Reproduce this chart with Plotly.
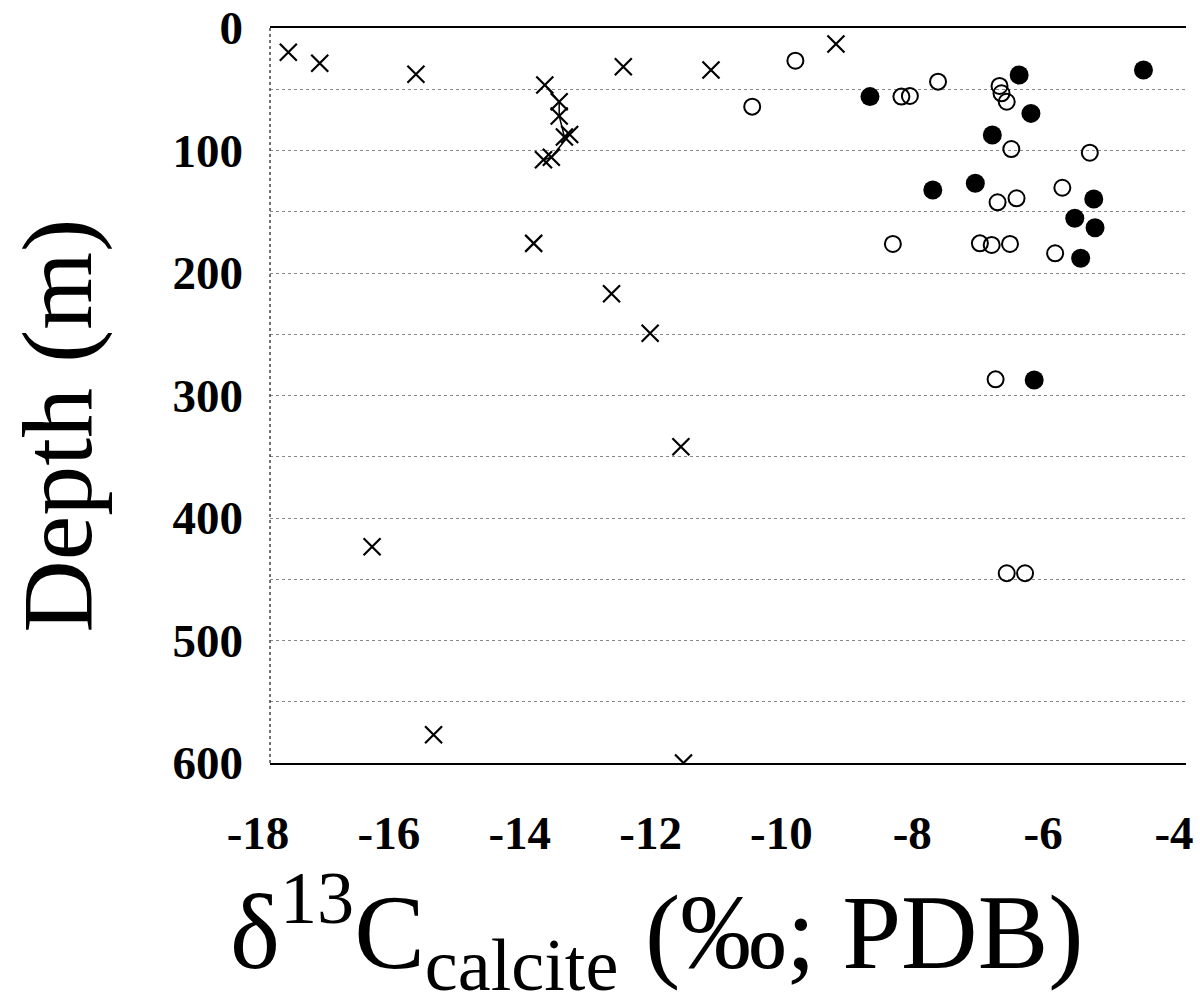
import plotly.graph_objects as go

# Crosses (single points)
cross_x = [-17.72, -17.24, -15.77, -12.60, -11.26, -13.97, -12.78, -12.19, -11.72, -16.44, -15.50, -11.68, -9.35]
cross_d = [19.8, 28.8, 37.8, 31.6, 34.3, 175.8, 217.0, 249.2, 341.8, 423.4, 577.0, 600.0, 13.1]

# Crosses joined by a line (profile near -13.5)
prof_x = [-13.80, -13.58, -13.58, -13.50, -13.42, -13.70, -13.82]
prof_d = [46.5, 60.2, 71.8, 89.0, 87.0, 105.5, 107.5]

# Open circles
open_x = [-9.97, -10.63, -8.35, -8.22, -7.79, -6.85, -6.82, -6.74, -6.67, -5.47, -5.89, -6.59,
          -6.88, -8.48, -7.15, -6.97, -6.69, -6.00, -6.91, -6.74, -6.46]
open_d = [26.7, 64.2, 56.0, 55.5, 43.8, 47.3, 53.3, 60.2, 98.8, 101.8, 130.4, 139.0,
          142.3, 176.3, 175.8, 177.1, 176.3, 183.9, 286.8, 445.1, 445.1]

# Filled circles
fill_x = [-8.83, -6.55, -4.65, -6.37, -6.96, -7.87, -7.22, -5.41, -5.70, -5.39, -5.61, -6.32]
fill_d = [56.0, 38.4, 34.3, 69.7, 87.3, 132.2, 126.8, 139.6, 155.3, 163.0, 188.0, 287.3]

x_ticks = [-18, -16, -14, -12, -10, -8, -6, -4]
y_ticks = [0, 100, 200, 300, 400, 500, 600]

FONT = "Liberation Serif, Times New Roman, serif"

fig = go.Figure()
fig.add_trace(go.Scatter(x=prof_x, y=prof_d, mode="lines+markers",
                         line=dict(color="black", width=1.5),
                         marker=dict(symbol="x-thin-open", size=17, color="black",
                                     line=dict(color="black", width=2.2))))
fig.add_trace(go.Scatter(x=cross_x, y=cross_d, mode="markers",
                         marker=dict(symbol="x-thin-open", size=17, color="black",
                                     line=dict(color="black", width=2.2))))
fig.add_trace(go.Scatter(x=open_x, y=open_d, mode="markers",
                         marker=dict(symbol="circle-open", size=16, color="black",
                                     line=dict(color="black", width=2))))
fig.add_trace(go.Scatter(x=fill_x, y=fill_d, mode="markers",
                         marker=dict(symbol="circle", size=19, color="black", line=dict(width=0))))

fig.update_layout(
    width=1200, height=1008,
    margin=dict(l=270, r=14, t=28, b=245),
    paper_bgcolor="white", plot_bgcolor="white",
    showlegend=False,
    font=dict(family=FONT, color="black"),
    xaxis=dict(range=[-18, -4], tickvals=x_ticks, ticktext=[str(v) for v in x_ticks],
               showgrid=False, zeroline=False, showline=True, mirror=True,
               linecolor="black", linewidth=2, ticks="", ticklabelstandoff=28,
               ticklabelshift=-12,
               ticklabeloverflow="allow", automargin=False,
               tickfont=dict(family=FONT, size=47, color="black", weight="bold")),
    yaxis=dict(range=[600, 0], tickvals=y_ticks, ticktext=[str(v) for v in y_ticks],
               showgrid=True, gridcolor="#888", gridwidth=1.2, griddash="dot",
               minor=dict(dtick=50, showgrid=True, gridcolor="#888", gridwidth=1.2, griddash="dot"),
               zeroline=False, showline=False, ticks="", ticklabelstandoff=26,
               ticklabeloverflow="allow", automargin=False,
               tickfont=dict(family=FONT, size=47, color="black", weight="bold")),
)

# dotted left frame line
fig.add_shape(type="line", xref="paper", yref="paper", x0=0, x1=0, y0=0, y1=1,
              line=dict(color="#444", width=1.5, dash="dot"))

fig.add_annotation(text="Depth (m)", xref="paper", yref="paper", x=-0.232, y=0.46,
                   textangle=-90, showarrow=False, xanchor="center", yanchor="middle",
                   font=dict(family=FONT, size=100, color="black"))
fig.add_annotation(text="δ<sup>13</sup>C<sub>calcite</sub> (‰; PDB)", xref="paper", yref="paper",
                   x=0.4225, y=-0.334, showarrow=False, xanchor="center", yanchor="bottom",
                   font=dict(family=FONT, size=106, color="black"))

fig.write_html("out.html")
